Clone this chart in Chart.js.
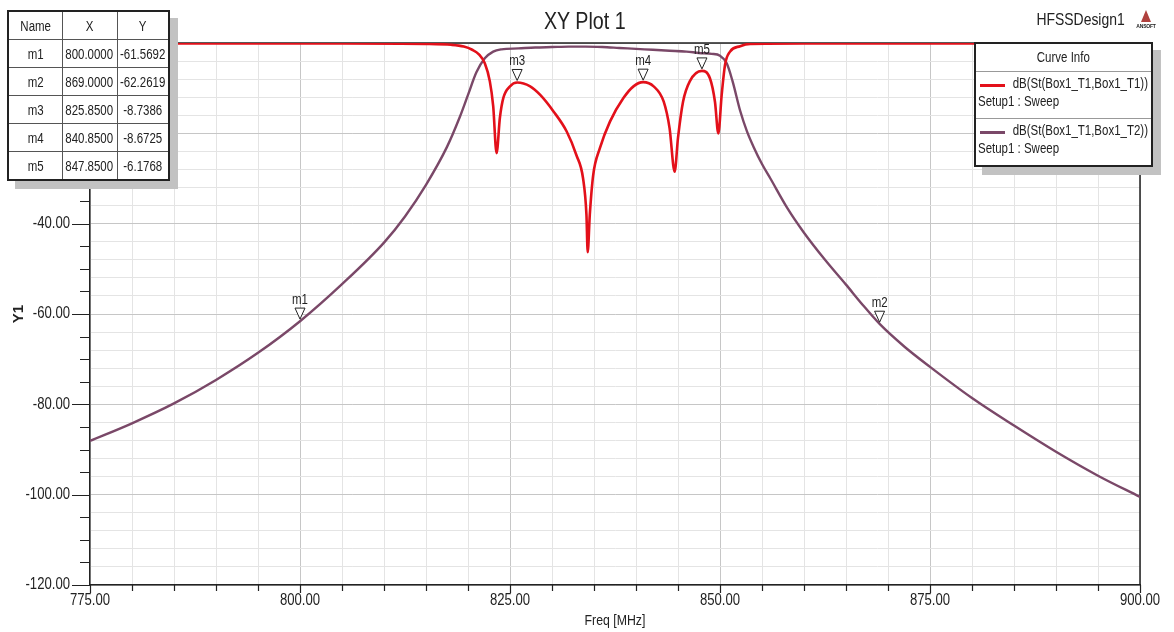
<!DOCTYPE html>
<html>
<head>
<meta charset="utf-8">
<script src="https://cdn.jsdelivr.net/npm/chart.js@4.4.1/dist/chart.umd.min.js"></script>
<style>
  html, body { margin: 0; padding: 0; background: #fff; }
  body { width: 1174px; height: 632px; overflow: hidden; position: relative;
         font-family: 'Liberation Sans', Arial, sans-serif; color: #222; }
  #plot { position: absolute; left: 0; top: 0; }
  .n { display: inline-block; transform: scaleX(0.82); white-space: nowrap; }
  #title { position: absolute; left: 0; top: 7px; width: 1170px; text-align: center; font-size: 24px; }
  #design { position: absolute; right: 49px; top: 10px; font-size: 17px; text-align: right; }
  #design .n { transform-origin: right center; }
  #logo { position: absolute; left: 1135px; top: 10px; width: 22px; text-align: center; }
  #logo .tri { width: 0; height: 0; margin: 0 auto; border-left: 5px solid transparent; border-right: 5px solid transparent;
               border-bottom: 12px solid #b0413e; }
  #logo .txt { font: bold 5px 'Liberation Sans', sans-serif; margin-top: 1px; letter-spacing: -0.2px; }
  #mk { position: absolute; left: 7px; top: 10px; width: 161px; border-collapse: collapse; table-layout: fixed; background: #fff;
        border: 2px solid #222; box-shadow: 8px 8px 0 #c2c2c2; font-size: 14px; }
  #mk td { border: 1px solid #555; text-align: center; height: 27px; padding: 0; overflow: visible; }
  #mk .n { margin: 0 -12px; }
  #info { position: absolute; left: 974px; top: 42px; width: 175px; background: #fff;
          border: 2px solid #222; box-shadow: 8px 8px 0 #c2c2c2; font-size: 14px; }
  #info .hd { height: 27px; line-height: 27px; text-align: center; border-bottom: 1px solid #999; }
  #info .it { height: 46px; position: relative; }
  #info .it + .it { border-top: 1px solid #999; }
  #info .sw { position: absolute; left: 4px; top: 12px; width: 25px; height: 3px; }
  #info .nm { position: absolute; right: 3px; top: 3px; }
  #info .nm .n { transform-origin: right center; }
  #info .su { position: absolute; left: 2px; top: 21px; }
  #info .su .n { transform-origin: left center; }
</style>
</head>
<body>
<canvas id="plot" width="1174" height="632"></canvas>
<div id="title"><span class="n">XY Plot 1</span></div>
<div id="design"><span class="n">HFSSDesign1</span></div>
<div id="logo"><div class="tri"></div><div class="txt">ANSOFT</div></div>
<table id="mk"></table>
<div id="info"></div>
<script>
// S11 (return loss)
const freqS11 = [775, 790, 805, 815, 818, 819.5, 820.5, 821.3, 822, 822.6, 823, 823.4, 823.8, 824.2, 825, 825.85,
  827.4, 828.6, 830.2, 831.75, 832.9, 833.7, 834.1, 834.25, 834.5, 834.9, 835.7, 836.9, 838.5, 839.7, 840.85,
  842.1, 843.3, 844, 844.6, 845, 845.6, 846.4, 847.85, 848.8, 849.4, 849.8, 850.2, 850.6, 851.2, 852.4, 853.6, 860, 900];
const s11 = [-0.1, -0.1, -0.1, -0.2, -0.4, -0.8, -1.5, -2.5, -4.5, -8.5, -14, -24.4, -16.5, -12.2, -9.6, -8.74,
  -9.6, -11.5, -15.2, -19.6, -24.8, -30, -38, -46.3, -38, -29.3, -23.3, -17.4, -12.2, -9.6, -8.67,
  -9.6, -13, -18.9, -28.5, -21, -13, -8.5, -6.18, -7.8, -13, -20, -11.5, -4.8, -1.9, -0.7, -0.2, -0.1, -0.1];

// S21 (insertion loss)
const freqS21 = [775, 780, 785, 790, 795, 800, 805, 810, 812.5, 815, 817.5, 819, 820, 821, 822, 823, 824, 826,
  828, 830, 832, 834, 836, 838, 840, 842, 844, 846, 847.5, 849, 850, 850.8, 851.5, 852.4, 853.2, 854, 855, 856,
  858, 860, 862.5, 865, 867, 869, 872, 875, 880, 885, 890, 895, 900];
const s21 = [-88.1, -84.2, -79.8, -74.6, -68.6, -61.6, -53.4, -44.2, -38.4, -31.4, -23, -16.5, -11.5, -6.5, -3.4, -1.9, -1.4, -1.2,
  -1.0, -0.9, -0.8, -0.8, -0.9, -1.1, -1.3, -1.5, -1.7, -1.9, -2.2, -2.4, -2.8, -4.5, -8.5, -15, -19.5, -23, -26.8, -30,
  -36.5, -42, -48, -53.5, -58, -62.2, -67.3, -71.7, -78.6, -84.7, -90.5, -95.8, -100.5];

const seriesNames = ['dB(St(Box1_T1,Box1_T1))', 'dB(St(Box1_T1,Box1_T2))'];
const setupName = 'Setup1 : Sweep';
const markerNames = ['m1', 'm2', 'm3', 'm4', 'm5'];
const markerX = [800, 869, 825.85, 840.85, 847.85];
const markerY = [-61.5692, -62.2619, -8.7386, -8.6725, -6.1768];

const colors = ['#e3101a', '#7a4868'];
const FONT = "'Liberation Sans', Arial, sans-serif";

// marker table
const tbl = document.getElementById('mk');
const cell = t => `<td><span class="n">${t}</span></td>`;
let rows = '<colgroup><col style="width:54px"><col style="width:55px"><col style="width:52px"></colgroup>';
rows += '<tr>' + cell('Name') + cell('X') + cell('Y') + '</tr>';
markerNames.forEach((n, i) => {
  rows += '<tr>' + cell(n) + cell(markerX[i].toFixed(4)) + cell(markerY[i].toFixed(4)) + '</tr>';
});
tbl.innerHTML = rows;

// curve info box
let info = '<div class="hd"><span class="n">Curve Info</span></div>';
seriesNames.forEach((n, i) => {
  info += `<div class="it"><div class="sw" style="background:${colors[i]}"></div>` +
          `<div class="nm"><span class="n">${n}</span></div><div class="su"><span class="n">${setupName}</span></div></div>`;
});
document.getElementById('info').innerHTML = info;

const toPts = (xs, ys) => xs.map((x, i) => ({ x, y: ys[i] }));

// narrow (Arial Narrow-like) text
function nText(ctx, s, x, y, align) {
  ctx.save();
  ctx.translate(x, y);
  ctx.scale(0.82, 1);
  ctx.textAlign = align;
  ctx.fillText(s, 0, 0);
  ctx.restore();
}

const frame = {
  id: 'frame',
  beforeDatasetsDraw(chart) {
    const { ctx, chartArea: a } = chart;
    const xs = chart.scales.x, ys = chart.scales.y;
    ctx.save();
    ctx.strokeStyle = '#222';
    ctx.lineWidth = 1.5;
    ctx.beginPath();
    ctx.moveTo(a.left, a.top); ctx.lineTo(a.right, a.top); ctx.lineTo(a.right, a.bottom);
    ctx.stroke();
    // tick marks, every 5 units
    ctx.lineWidth = 1.2;
    ctx.beginPath();
    for (let v = ys.min; v <= ys.max; v += 5) {
      const p = Math.round(ys.getPixelForValue(v)) + 0.5;
      const len = v % 20 === 0 ? 18 : 10;
      ctx.moveTo(a.left - len, p); ctx.lineTo(a.left, p);
    }
    for (let v = xs.min; v <= xs.max; v += 5) {
      const p = Math.round(xs.getPixelForValue(v)) + 0.5;
      const len = v % 25 === 0 ? 8 : 6;
      ctx.moveTo(p, a.bottom); ctx.lineTo(p, a.bottom + len);
    }
    ctx.stroke();
    // tick labels
    ctx.fillStyle = '#222';
    ctx.font = '16px ' + FONT;
    ctx.textBaseline = 'middle';
    ys.ticks.filter(t => t.value % 20 === 0).forEach(t => {
      nText(ctx, t.value.toFixed(2), a.left - 20, ys.getPixelForValue(t.value), 'right');
    });
    ctx.textBaseline = 'top';
    xs.ticks.filter(t => t.value % 25 === 0).forEach(t => {
      nText(ctx, t.value.toFixed(2), xs.getPixelForValue(t.value), a.bottom + 8, 'center');
    });
    ctx.font = '15px ' + FONT;
    ctx.textBaseline = 'middle';
    nText(ctx, 'Freq [MHz]', (a.left + a.right) / 2, a.bottom + 36, 'center');
    ctx.restore();
  },
  afterDatasetsDraw(chart) {
    const { ctx } = chart;
    const xs = chart.scales.x, ys = chart.scales.y;
    ctx.save();
    ctx.font = '14px ' + FONT;
    ctx.textBaseline = 'bottom';
    markerNames.forEach((n, i) => {
      const px = xs.getPixelForValue(markerX[i]);
      const py = ys.getPixelForValue(markerY[i]) - 2;
      ctx.beginPath();
      ctx.moveTo(px, py); ctx.lineTo(px - 5, py - 11); ctx.lineTo(px + 5, py - 11); ctx.closePath();
      ctx.fillStyle = '#fff'; ctx.fill();
      ctx.strokeStyle = '#222'; ctx.lineWidth = 1; ctx.stroke();
      ctx.fillStyle = '#222';
      nText(ctx, n, px, py - 12, 'center');
    });
    ctx.restore();
  }
};

new Chart(document.getElementById('plot'), {
  type: 'line',
  data: {
    datasets: [
      { label: seriesNames[0], data: toPts(freqS11, s11), borderColor: colors[0], borderWidth: 2.6 },
      { label: seriesNames[1], data: toPts(freqS21, s21), borderColor: colors[1], borderWidth: 2.4 }
    ]
  },
  options: {
    responsive: false,
    animation: false,
    layout: { padding: { top: 43, right: 34, left: 0, bottom: 0 } },
    elements: { point: { radius: 0 }, line: { cubicInterpolationMode: 'monotone', fill: false } },
    plugins: { legend: { display: false }, tooltip: { enabled: false } },
    scales: {
      x: {
        type: 'linear', min: 775, max: 900,
        afterFit: s => { s.height = 47; },
        ticks: { stepSize: 5, autoSkip: false, maxRotation: 0, display: false },
        grid: { drawTicks: false, color: c => c.tick && c.tick.value % 25 === 0 ? '#c6c6c6' : '#e4e4e4' },
        border: { color: '#222', width: 1.5 }
      },
      y: {
        min: -120, max: 0,
        afterFit: s => { s.width = 90; },
        ticks: { stepSize: 4, autoSkip: false, display: false },
        grid: { drawTicks: false, color: c => c.tick && c.tick.value % 20 === 0 ? '#c6c6c6' : '#e4e4e4' },
        border: { color: '#222', width: 1.5 },
        title: { display: true, text: 'Y1', color: '#222', font: { family: FONT, size: 15, weight: 'bold' }, padding: { top: 10 } }
      }
    }
  },
  plugins: [frame]
});
</script>
</body>
</html>
